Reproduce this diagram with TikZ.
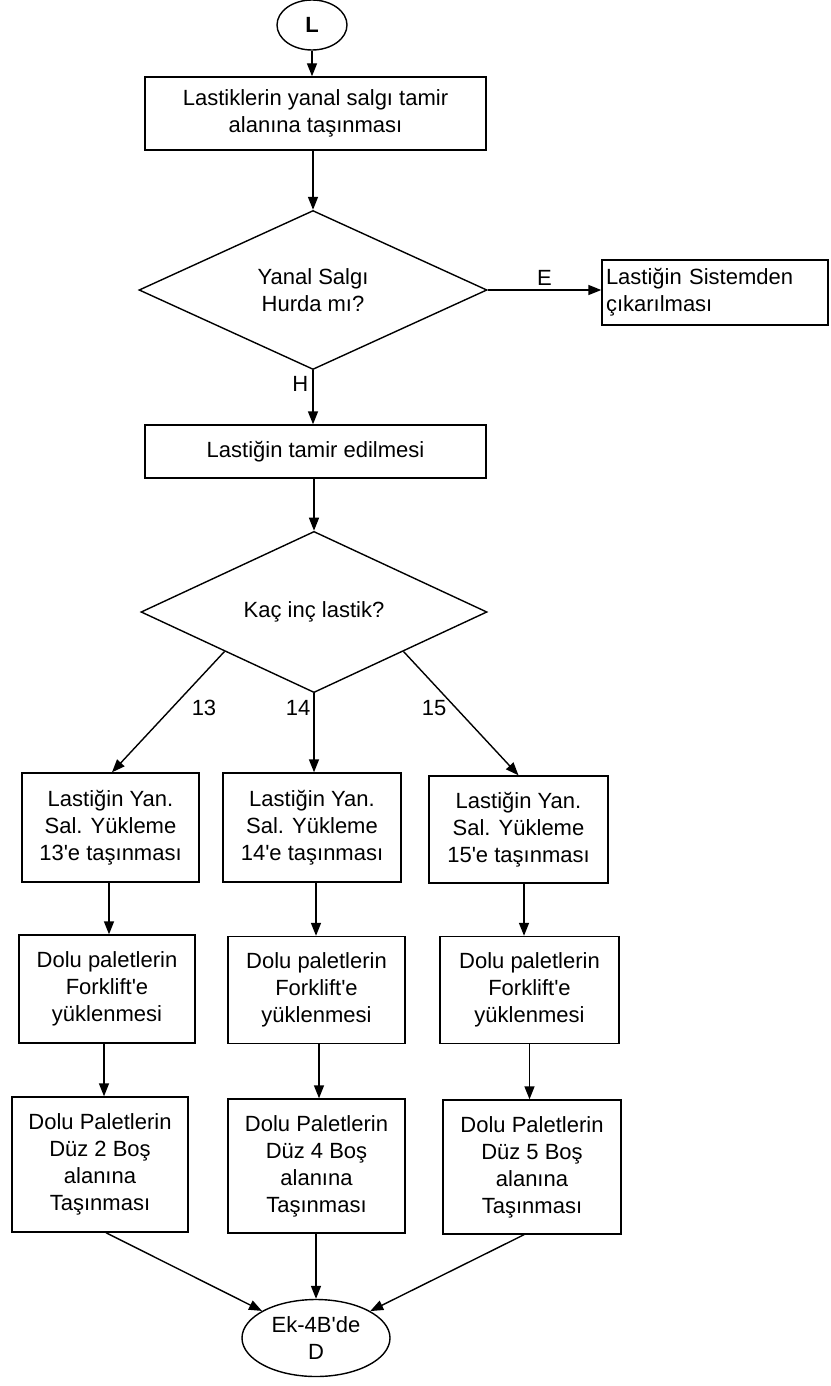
\documentclass[tikz,border=0pt]{standalone}
\usepackage{fontspec}
\setmainfont{Liberation Sans}[Ligatures=TeXOff]
\usetikzlibrary{shapes.geometric,arrows.meta,calc}
\begin{document}
\begin{tikzpicture}[x=1pt,y=-1pt,
  every node/.style={font=\fontsize{22}{27}\selectfont},
  box/.style={draw,line width=1.4pt,rectangle,inner sep=0pt,align=center},
  dia/.style={draw,line width=1.4pt,diamond,inner sep=0pt,align=center},
  oval/.style={draw,line width=1.4pt,ellipse,inner sep=0pt,align=center},
  arr/.style={line width=1.4pt,-{Triangle[length=13pt,width=10pt]}},
  lbl/.style={inner sep=0pt}]
\useasboundingbox (0,0) rectangle (830,1386);
\node[oval,minimum width=70pt,minimum height=50pt] (L) at (312,25) {\textbf{L}};
\node[box,minimum width=341pt,minimum height=73pt] (b1) at (315.5,113.5) {Lastiklerin yanal salgı tamir\\alanına taşınması};
\node[dia,minimum width=348pt,minimum height=159pt] (d1) at (313,290) {Yanal Salgı\\Hurda mı?};
\node[box,minimum width=226pt,minimum height=65pt,text width=218pt,align=left] (b2) at (715,292.5) {Lastiğin Sistemden\\çıkarılması};
\node[box,minimum width=341pt,minimum height=53pt] (b3) at (315.5,451.5) {Lastiğin tamir edilmesi};
\node[dia,minimum width=346pt,minimum height=159pt] (d2) at (314,612) {Kaç inç lastik?};
\node[box,minimum width=177pt,minimum height=109pt] (c1) at (110.5,827.5) {Lastiğin Yan.\\Sal. Yükleme\\13'e taşınması};
\node[box,minimum width=178pt,minimum height=109pt] (c2) at (312,827.5) {Lastiğin Yan.\\Sal. Yükleme\\14'e taşınması};
\node[box,minimum width=179pt,minimum height=107pt] (c3) at (518.5,829.5) {Lastiğin Yan.\\Sal. Yükleme\\15'e taşınması};
\node[box,minimum width=176pt,minimum height=108pt] (r1) at (107,989) {Dolu paletlerin\\Forklift'e\\yüklenmesi};
\node[box,minimum width=177pt,minimum height=107pt] (r2) at (316.5,990) {Dolu paletlerin\\Forklift'e\\yüklenmesi};
\node[box,minimum width=179pt,minimum height=107pt] (r3) at (529.5,990) {Dolu paletlerin\\Forklift'e\\yüklenmesi};
\node[box,minimum width=176pt,minimum height=135pt] (s1) at (100,1164.5) {Dolu Paletlerin\\Düz 2 Boş\\alanına\\Taşınması};
\node[box,minimum width=177pt,minimum height=134pt] (s2) at (316.5,1166) {Dolu Paletlerin\\Düz 4 Boş\\alanına\\Taşınması};
\node[box,minimum width=178pt,minimum height=134pt] (s3) at (532,1167) {Dolu Paletlerin\\Düz 5 Boş\\alanına\\Taşınması};
\node[oval,minimum width=148pt,minimum height=77pt] (e) at (316,1338) {Ek-4B'de\\D};
% connectors
\draw[arr] (L.south) -- (L.south |- b1.north);
\draw[arr] (b1.south -| d1.north) -- (d1.north);
\draw[arr] (d1.east) -- node[lbl,above=4pt] {E} (d1.east -| b2.west);
\draw[arr] (d1.south) -- node[lbl,pos=0.25,left=4pt] {H} (d1.south |- b3.north);
\draw[arr] (b3.south -| d2.north) -- (d2.north);
\coordinate (d2l) at ($(d2.west)!0.485!(d2.south)$);
\coordinate (d2r) at ($(d2.east)!0.485!(d2.south)$);
\draw[arr] (d2l) -- ([xshift=1.5pt]c1.north);
\draw[arr] (d2.south) -- (d2.south |- c2.north);
\draw[arr] (d2r) -- (c3.north);
\node[lbl] (n13) at (204,708) {13};
\node[lbl] (n14) at (298,708) {14};
\node[lbl] (n15) at (434,708) {15};
\draw[arr] ([xshift=-1.5pt]c1.south) -- ([xshift=-1.5pt]c1.south |- r1.north);
\draw[arr] ([xshift=4pt]c2.south) -- ([xshift=4pt]c2.south |- r2.north);
\draw[arr] ([xshift=5.5pt]c3.south) -- ([xshift=5.5pt]c3.south |- r3.north);
\draw[arr] ([xshift=-3pt]r1.south) -- ([xshift=-3pt]r1.south |- s1.north);
\draw[arr] ([xshift=2.5pt]r2.south) -- ([xshift=2.5pt]r2.south |- s2.north);
\draw[arr] (r3.south) -- (r3.south |- s3.north);
\draw[arr] ([xshift=6pt]s1.south) -- (e);
\draw[arr] (s2.south -| e.north) -- (e.north);
\draw[arr] ([xshift=-8pt]s3.south) -- (e);
\end{tikzpicture}
\end{document}
